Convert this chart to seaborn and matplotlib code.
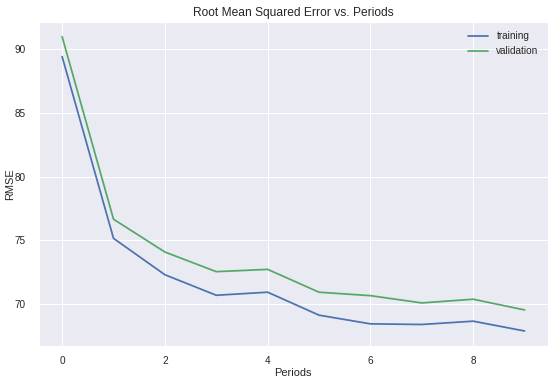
import pandas as pd
import matplotlib
matplotlib.use('Agg')
import matplotlib.pyplot as plt
import seaborn as sns

# Valori
periods = [0, 1, 2, 3, 4, 5, 6, 7, 8, 9]
training_rmse = [89.40, 75.16, 72.31, 70.70, 70.94, 69.14, 68.46, 68.41, 68.67, 67.90]
validation_rmse = [90.96, 76.66, 74.09, 72.55, 72.73, 70.94, 70.67, 70.10, 70.39, 69.55]

df = pd.DataFrame({
    'Periods': periods * 2,
    'RMSE': training_rmse + validation_rmse,
    'set': ['training'] * len(periods) + ['validation'] * len(periods),
})

sns.set_theme(style='darkgrid')
plt.rcParams['font.family'] = ['Liberation Sans', 'DejaVu Sans']

fig = plt.figure(figsize=(554 / 72, 384 / 72), dpi=72)
ax = fig.add_axes([0.0704, 0.0997, 0.9182, 0.843])

sns.lineplot(data=df, x='Periods', y='RMSE', hue='set',
             palette=['#4C72B0', '#55A868'], linewidth=1.75, ax=ax)

ax.set_title('Root Mean Squared Error vs. Periods', fontsize=12, color='#262626')
ax.set_xlabel('Periods', fontsize=11, labelpad=2, color='#262626')
ax.set_ylabel('RMSE', fontsize=11, labelpad=0, color='#262626')
ax.tick_params(axis='x', labelsize=10, colors='#262626', pad=4)
ax.tick_params(axis='y', labelsize=10, colors='#262626', pad=7)
ax.legend(title=None, frameon=False, fontsize=10, loc='upper right')

fig.savefig('out.png', dpi=72)
